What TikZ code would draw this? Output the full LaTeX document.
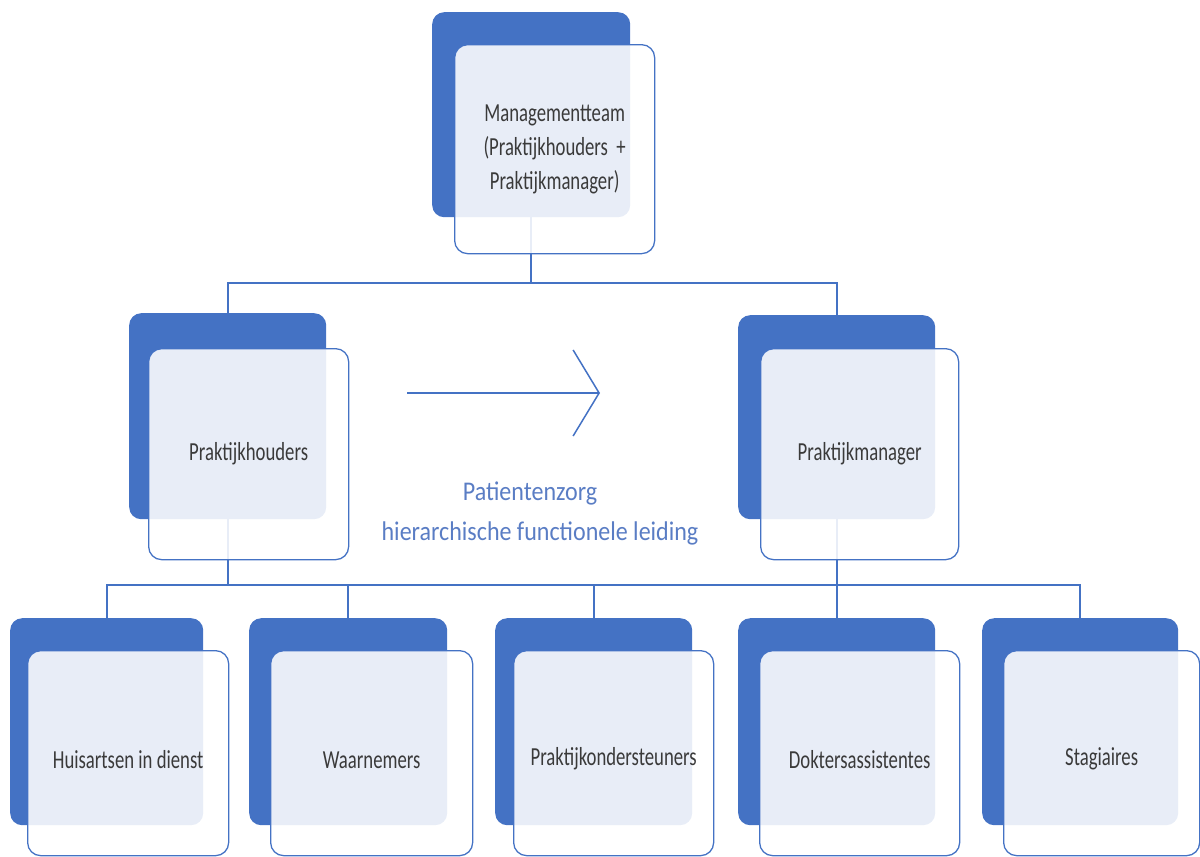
\documentclass[tikz,border=0pt]{standalone}
\usepackage{fontspec}
\setmainfont{Carlito}
\usetikzlibrary{arrows.meta}
\definecolor{accent}{HTML}{4472C4}
\definecolor{lbl}{HTML}{5A7DC4}
\definecolor{txt}{HTML}{3A3A3A}
\pgfdeclarelayer{bg}
\pgfsetlayers{bg,main}
\newcommand{\boxtext}[1]{\scalebox{0.72}[1]{\fontsize{26}{34}\selectfont #1}}
\newcommand{\lowtext}[1]{\scalebox{0.72}[1]{\fontsize{26}{34}\selectfont\rule{0pt}{30pt}#1}}
\begin{document}
\begin{tikzpicture}[x=1pt,y=-1pt,
  backbox/.style={anchor=north west, fill=accent, draw=none, rounded corners=12pt, inner sep=0pt},
  frontbox/.style={anchor=north west, fill=white, fill opacity=0.88, text opacity=1, draw=accent, line width=1.3pt, rounded corners=13pt, inner sep=0pt, text=txt, align=center},
  conn/.style={draw=accent, line width=2pt},
  arrowline/.style={draw=accent, line width=1.5pt},
  lbltext/.style={text=lbl, inner sep=0pt}
]
\useasboundingbox (0,0) rectangle (1200,857);
\clip (0,0) rectangle (1200,857);

% top
\node[backbox, minimum width=198pt, minimum height=205pt] (mtB) at (432,12) {};
\node[frontbox, minimum width=200pt, minimum height=209pt] (mtF) at (454,44)
  {\scalebox{0.72}[1]{\fontsize{26}{34}\selectfont\begin{tabular}{@{}c@{}}Managementteam\\(Praktijkhouders\ \ +\\Praktijkmanager)\end{tabular}}};

% middle
\node[backbox, minimum width=197pt, minimum height=206pt] (phB) at (129,313) {};
\node[frontbox, minimum width=200pt, minimum height=211pt] (phF) at (148,348) {\boxtext{Praktijkhouders}};
\node[backbox, minimum width=197pt, minimum height=204pt] (pmB) at (738,315) {};
\node[frontbox, minimum width=198pt, minimum height=211pt] (pmF) at (760,348) {\boxtext{Praktijkmanager}};

% bottom
\node[backbox, minimum width=193pt, minimum height=207pt] (huB) at (10,618) {};
\node[frontbox, minimum width=201pt, minimum height=205pt] (huF) at (27,650) {\lowtext{Huisartsen in dienst}};
\node[backbox, minimum width=198pt, minimum height=207pt] (waB) at (249,618) {};
\node[frontbox, minimum width=202pt, minimum height=205pt] (waF) at (270,650) {\lowtext{Waarnemers}};
\node[backbox, minimum width=197pt, minimum height=207pt] (poB) at (495,618) {};
\node[frontbox, minimum width=200pt, minimum height=205pt] (poF) at (513,650) {\lowtext{Praktijkondersteuners}};
\node[backbox, minimum width=197pt, minimum height=207pt] (daB) at (738,618) {};
\node[frontbox, minimum width=200pt, minimum height=205pt] (daF) at (759,650) {\lowtext{Doktersassistentes}};
\node[backbox, minimum width=196pt, minimum height=207pt] (stB) at (982,618) {};
\node[frontbox, minimum width=196pt, minimum height=205pt] (stF) at (1003,650) {\lowtext{Stagiaires}};

% connectors
\begin{pgfonlayer}{bg}
\draw[conn] (mtB.south) -- ++(0,66) -| (phB.north);
\draw[conn] (mtB.south) -- ++(0,66) -| (pmB.north);
\draw[conn] (phB.south) -- ++(0,66) -| (huB.north);
\draw[conn] (phB.south) -- ++(0,66) -| (waB.north);
\draw[conn] (phB.south) -- ++(0,66) -| (poB.north);
\draw[conn] (pmB.south) -- ++(0,66) -| (daB.north);
\draw[conn] (pmB.south) -- ++(0,66) -| (stB.north);
\draw[conn] (pmB.south) -- ++(0,66) -| (poB.north);
\end{pgfonlayer}

% arrow and label
\coordinate (arrS) at (407,393);
\coordinate (arrE) at (600,393);
\draw[arrowline, -{Straight Barb[length=26pt,width=86pt,line width=1.5pt]}] (arrS) -- (arrE);
\node[lbltext] (lbl1) at (530,493) {\scalebox{0.89}[1]{\fontsize{27}{32}\selectfont Patientenzorg}};
\node[lbltext] (lbl2) at (540,533) {\scalebox{0.89}[1]{\fontsize{27}{32}\selectfont hierarchische functionele leiding}};
\end{tikzpicture}
\end{document}
